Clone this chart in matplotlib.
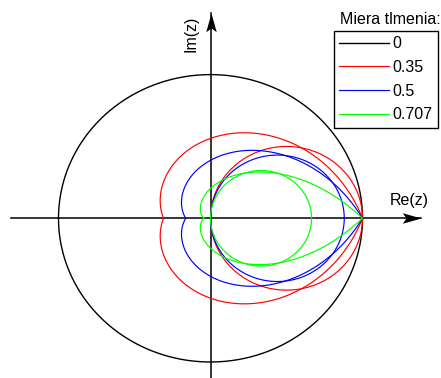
import numpy as np
import matplotlib
matplotlib.use("Agg")
import matplotlib.pyplot as plt
from matplotlib.path import Path

plt.rcParams['font.family'] = ['Liberation Sans', 'DejaVu Sans']

# Damping ratios of the constant-damping loci in the z-plane
zeta = [0, 0.35, 0.5, 0.707]
zeta_labels = ["0", "0.35", "0.5", "0.707"]
colors = ["black", "#ff0000", "#0000ff", "#00ff00"]
# Diameters of the inner loops (through the origin) for each damping ratio
inner_diam = [None, 1.0, 0.88, 0.665]

fig = plt.figure(figsize=(4.41, 3.78), dpi=100)
ax = fig.add_axes([0, 0, 1, 1])
ax.set_xlim(-210.5 / 152, (441 - 210.5) / 152)
ax.set_ylim(-(378 - 218.3) / 143.7, 218.3 / 143.7)
ax.axis("off")

# Coordinate axes with stealth arrow heads
head = Path([(0, 0), (-1, 0.28), (-0.8, 0), (-1, -0.28), (0, 0)],
            [Path.MOVETO, Path.LINETO, Path.LINETO, Path.LINETO, Path.CLOSEPOLY])
head_up = Path(head.vertices[:, ::-1], head.codes)
x_lo, x_hi = -1.3125, 1.385
y_lo, y_hi = -1.2, 1.4266
ax.plot([x_lo, x_hi], [0, 0], color="black", lw=1.1, zorder=1)
ax.plot([0, 0], [y_lo, y_hi], color="black", lw=1.1, zorder=1)
ax.plot([x_hi], [0], marker=head, ms=27, color="black", mew=0, zorder=5)
ax.plot([0], [y_hi], marker=head_up, ms=27, color="black", mew=0, zorder=5)
ax.text((409.5 - 210.5) / 152, (218.3 - 200) / 143.7, "Re(z)",
        ha="center", va="center", fontsize=11.5)
ax.text(-19.5 / 152, (218.3 - 34) / 143.7, "Im(z)",
        ha="center", va="center", fontsize=11.5, rotation=90)

# Constant-damping loci z = exp(sT), s on the ray of given damping ratio
theta = np.linspace(-np.pi, np.pi, 1201)
handles = []
for z_, c, lab, d in zip(zeta, colors, zeta_labels, inner_diam):
    k = z_ / np.sqrt(1 - z_ ** 2)
    r = np.exp(-k * np.abs(theta))
    lw = 1.0 if z_ == 0 else 0.85
    h, = ax.plot(r * np.cos(theta), r * np.sin(theta), color=c, lw=lw,
                 label=lab, zorder=2)
    handles.append(h)
    if d is not None:
        phi = np.linspace(0, 2 * np.pi, 400)
        ax.plot(d / 2 * (1 + np.cos(phi)), d / 2 * np.sin(phi), color=c,
                lw=0.85, zorder=2)

leg = fig.legend(handles=handles, loc="upper left",
                 bbox_to_anchor=(334 / 441, 1 - 31 / 378),
                 bbox_transform=fig.transFigure, borderaxespad=0,
                 fontsize=11.5, handlelength=3.1, handletextpad=0.25,
                 labelspacing=0.55, borderpad=0.32, fancybox=False,
                 framealpha=1, edgecolor="black")
leg.get_frame().set_linewidth(1.0)
fig.text(340 / 441, 1 - 19.5 / 378, "Miera tlmenia:", ha="left",
         va="center", fontsize=11.5)

fig.savefig("out.png", dpi=100)
